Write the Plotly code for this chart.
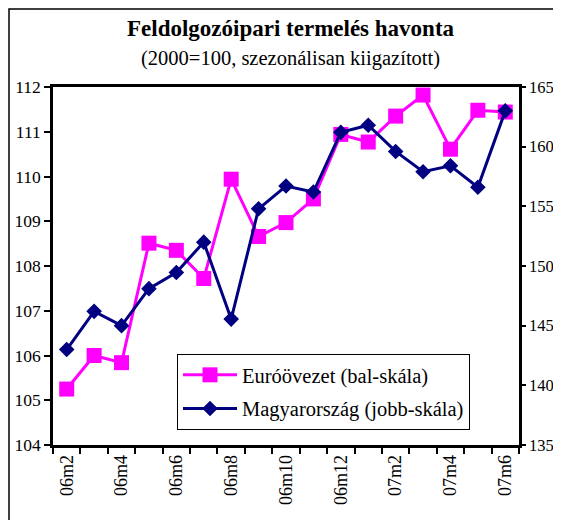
import plotly.graph_objects as go

categories = ["06m2", "06m3", "06m4", "06m5", "06m6", "06m7", "06m8", "06m9", "06m10",
              "06m11", "06m12", "07m1", "07m2", "07m3", "07m4", "07m5", "07m6"]
euro = [105.25, 106.0, 105.84, 108.51, 108.35, 107.72, 109.94, 108.66, 108.97,
        109.5, 110.94, 110.77, 111.35, 111.82, 110.61, 111.48, 111.44]
hungary = [143.0, 146.2, 145.0, 148.1, 149.45, 152.0, 145.55, 154.8, 156.7,
           156.2, 161.2, 161.8, 159.6, 157.9, 158.4, 156.6, 163.0]
left_ticks = [104, 105, 106, 107, 108, 109, 110, 111, 112]
right_ticks = [135, 140, 145, 150, 155, 160, 165]

xi = list(range(len(categories)))
label_idx = xi[::2]

FONT = "Liberation Serif"

# page body has an 8px margin; figure sized so no scrollbars appear
OFF = 8
W, H = 561 - 2 * OFF, 528 - 2 * OFF
ml, mr, mt, mb = 45, 34, 79, 75
pw = W - ml - mr
ph = H - mt - mb

def px_x(p):
    return (p - OFF - ml) / pw

def px_y(p):
    return (H - mb - (p - OFF)) / ph

fig = go.Figure()
fig.add_trace(go.Scatter(
    x=xi, y=euro, name="Euróövezet (bal-skála)", mode="lines+markers",
    line=dict(color="#FF00FF", width=3),
    marker=dict(symbol="square", size=15, color="#FF00FF"),
    legendgroup="a"))
fig.add_trace(go.Scatter(
    x=xi, y=hungary, name="Magyarország (jobb-skála)", mode="lines+markers",
    line=dict(color="#000080", width=3),
    marker=dict(symbol="diamond", size=12, color="#000080"),
    yaxis="y2", legendgroup="b"))

fig.update_layout(
    width=W, height=H,
    margin=dict(l=ml, r=mr, t=mt, b=mb, pad=0, autoexpand=False),
    paper_bgcolor="white", plot_bgcolor="white",
    font=dict(family=FONT, size=17.5, color="black"),
    showlegend=True,
    legend=dict(
        x=px_x(177), y=px_y(354), xanchor="left", yanchor="top",
        bordercolor="black", borderwidth=1, bgcolor="white",
        font=dict(family=FONT, size=20.5, color="black"),
        itemwidth=54, traceorder="grouped", tracegroupgap=4,
    ),
    xaxis=dict(
        range=[-0.5, len(categories) - 0.5],
        tickvals=[xi[i] for i in label_idx],
        ticktext=[categories[i] for i in label_idx],
        tickangle=-90, ticks="", showgrid=False, zeroline=False,
        showline=True, linecolor="black", linewidth=2.5, mirror=True,
        automargin=False,
        tickfont=dict(family=FONT, size=18),
        minor=dict(tick0=-0.5, dtick=1, ticks="outside", ticklen=6,
                   tickcolor="black", tickwidth=1.5, showgrid=False),
    ),
    yaxis=dict(
        range=[104, 112], tickvals=left_ticks, ticks="outside", ticklen=6,
        tickcolor="black", tickwidth=1.5, showgrid=False, zeroline=False,
        showline=True, linecolor="black", linewidth=2.5, automargin=False,
        tickfont=dict(family=FONT, size=17.5),
    ),
    yaxis2=dict(
        range=[135, 165], tickvals=right_ticks, overlaying="y", side="right",
        ticks="outside", ticklen=4, tickcolor="black", tickwidth=1.5,
        showgrid=False, zeroline=False, showline=True, linecolor="black",
        linewidth=2.5, automargin=False, tickfont=dict(family=FONT, size=16.5),
    ),
    annotations=[
        dict(text="<b>Feldolgozóipari termelés havonta</b>", xref="paper", yref="paper",
             x=px_x(290.5), y=px_y(29), xanchor="center", yanchor="middle",
             showarrow=False, font=dict(family=FONT, size=23)),
        dict(text="(2000=100, szezonálisan kiigazított)", xref="paper", yref="paper",
             x=px_x(290.5), y=px_y(59), xanchor="center", yanchor="middle",
             showarrow=False, font=dict(family=FONT, size=20.5)),
    ],
    shapes=[
        dict(type="rect", xref="paper", yref="paper",
             x0=px_x(9), x1=px_x(700), y0=px_y(700), y1=px_y(9),
             line=dict(color="black", width=1.5), fillcolor="rgba(0,0,0,0)",
             layer="below"),
    ],
)

fig.write_html("out.html")
